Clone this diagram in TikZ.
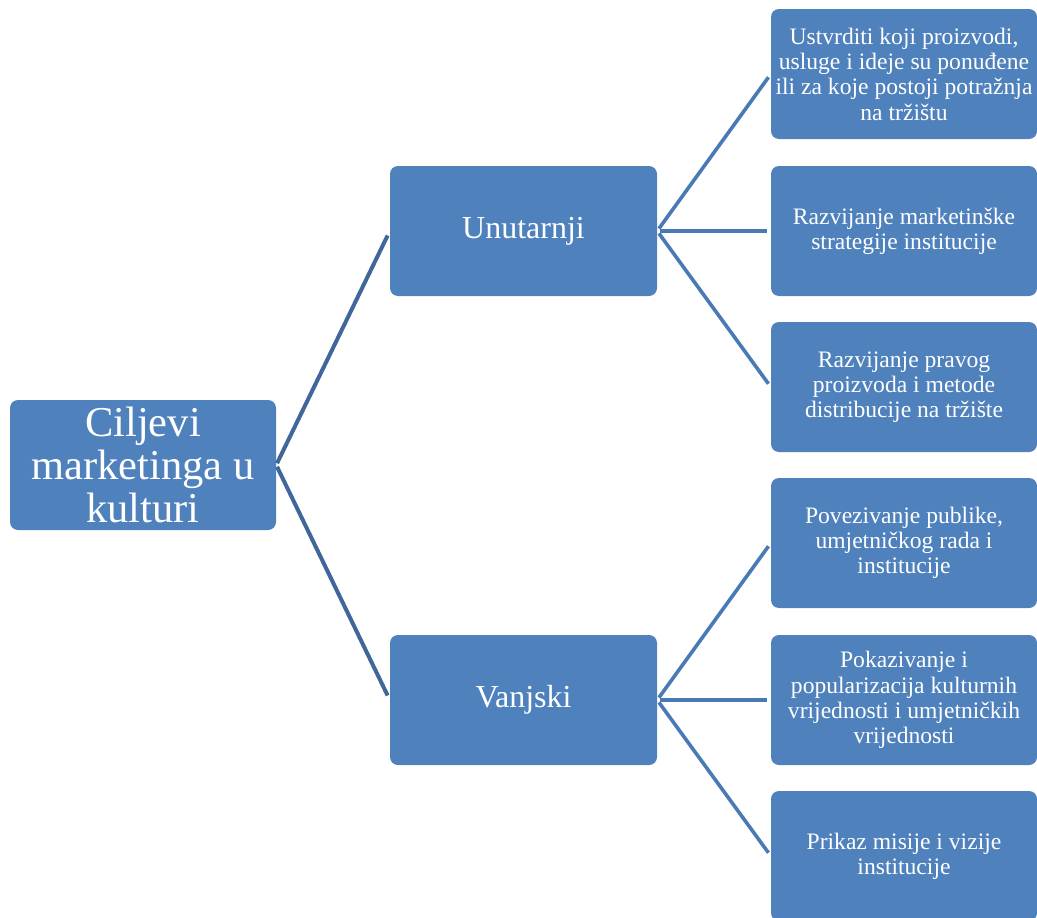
\documentclass[tikz,border=0pt]{standalone}
\usepackage{fontspec}
\setmainfont{Liberation Serif}
\definecolor{boxblue}{HTML}{4F81BD}
\definecolor{lineA}{HTML}{41679A}
\definecolor{lineB}{HTML}{4A7AB6}
\begin{document}
\begin{tikzpicture}[x=1pt,y=-1pt,
  box/.style={fill=boxblue,draw=none,rounded corners=8pt,text=white,align=center,inner sep=2pt},
  rootbox/.style={box,minimum width=266pt,minimum height=130pt,font=\fontsize{42.5}{43}\selectfont},
  midbox/.style={box,minimum width=267pt,minimum height=130pt,font=\fontsize{32}{34}\selectfont},
  leafbox/.style={box,minimum width=266pt,minimum height=130pt,font=\fontsize{23.6}{25.3}\selectfont},
  linkA/.style={draw=lineA,line width=4pt,shorten <=2pt,shorten >=5pt},
  linkB/.style={draw=lineB,line width=3.6pt,shorten <=3pt,shorten >=4pt}]
\useasboundingbox (0,0) rectangle (1037,918);
\node[rootbox] (root) at (143,465) {Ciljevi\\marketinga u\\kulturi};
\node[midbox] (u) at (523.5,231) {Unutarnji};
\node[midbox] (v) at (523.5,700) {Vanjski};
\node[leafbox] (l1) at (904,74) {Ustvrditi koji proizvodi,\\usluge i ideje su ponuđene\\ili za koje postoji potražnja\\na tržištu};
\node[leafbox] (l2) at (904,231) {Razvijanje marketinške\\strategije institucije};
\node[leafbox] (l3) at (904,387) {Razvijanje pravog\\proizvoda i metode\\distribucije na tržište};
\node[leafbox] (l4) at (904,543) {Povezivanje publike,\\umjetničkog rada i\\institucije};
\node[leafbox] (l5) at (904,700) {Pokazivanje i\\popularizacija kulturnih\\vrijednosti i umjetničkih\\vrijednosti};
\node[leafbox] (l6) at (904,856) {Prikaz misije i vizije\\institucije};
\draw[linkA] (root.east) -- (u.west);
\draw[linkA] (root.east) -- (v.west);
\foreach \t in {l1,l2,l3} \draw[linkB] (u.east) -- (\t.west);
\foreach \t in {l4,l5,l6} \draw[linkB] (v.east) -- (\t.west);
\end{tikzpicture}
\end{document}
